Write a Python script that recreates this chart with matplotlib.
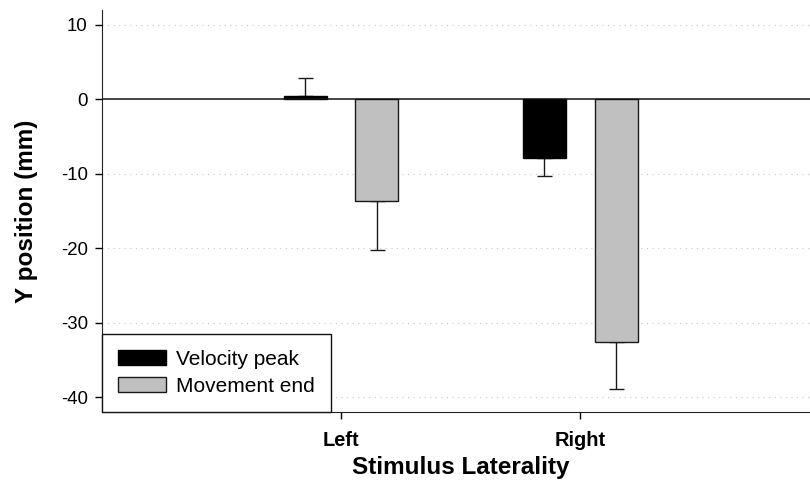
import numpy as np
import matplotlib.pyplot as plt
from matplotlib.patches import Patch

plt.rcParams['font.family'] = ['Liberation Sans', 'DejaVu Sans']
plt.rcParams['axes.unicode_minus'] = False

# Data
categories = ['Left', 'Right']
velocity_peak = [0.5, -7.9]
velocity_err = [2.35, 2.45]
movement_end = [-13.7, -32.6]
movement_err = [6.6, 6.3]

BLACK = '#000000'
GRAY = '#c0c0c0'

fig = plt.figure(figsize=(8.1, 4.88), dpi=100)
# axes runs a little past the right edge of the picture
ax = fig.add_axes([0.1256, 0.1557, 0.886, 0.8238])

x = np.arange(1, len(categories) + 1)
w = 0.18
off = 0.15

# one-sided error bars, away from zero
def one_sided(vals, errs):
    lo = [e if v < 0 else 0 for v, e in zip(vals, errs)]
    hi = [e if v >= 0 else 0 for v, e in zip(vals, errs)]
    return [lo, hi]

ax.bar(x - off, velocity_peak, w, color=BLACK, edgecolor=BLACK, linewidth=1, zorder=3)
ax.bar(x + off, movement_end, w, color=GRAY, edgecolor='#1a1a1a', linewidth=1, zorder=3)
ax.errorbar(x - off, velocity_peak, yerr=one_sided(velocity_peak, velocity_err),
            fmt='none', ecolor='#1a1a1a', elinewidth=1, capsize=5.4, capthick=1, zorder=2)
ax.errorbar(x + off, movement_end, yerr=one_sided(movement_end, movement_err),
            fmt='none', ecolor='#1a1a1a', elinewidth=1, capsize=5.4, capthick=1, zorder=2)

ax.axhline(0, color='#111111', linewidth=1.1, zorder=4)

ax.set_xlim(0, 3)
ax.set_ylim(-42, 12)
ax.set_yticks([-40, -30, -20, -10, 0, 10])
ax.set_xticks(x)
ax.set_xticklabels(categories, fontsize=14.4, fontweight='bold')
ax.tick_params(axis='y', labelsize=13.4, length=5, width=1, direction='out', pad=5)
ax.tick_params(axis='x', length=5, width=1, direction='out', pad=9)

for v in [-40, -30, -20, -10, 10]:
    ax.axhline(v, color='#c8c8c8', linewidth=0.8, linestyle=(0, (1, 4)), zorder=1)

ax.spines['top'].set_visible(False)
ax.spines['right'].set_visible(False)
ax.spines['left'].set_color('#222222')
ax.spines['bottom'].set_color('#222222')

ax.set_xlabel('Stimulus Laterality', fontsize=17.5, fontweight='bold', labelpad=4)
ax.set_ylabel('Y position (mm)', fontsize=17.5, fontweight='bold', labelpad=16)

handles = [Patch(facecolor=BLACK, edgecolor=BLACK, label='Velocity peak'),
           Patch(facecolor=GRAY, edgecolor='#1a1a1a', label='Movement end')]
leg = ax.legend(handles=handles, loc='lower left', bbox_to_anchor=(0, 0),
                borderaxespad=0, fontsize=15, fancybox=False, framealpha=1,
                edgecolor='#111111', handlelength=2.3, handleheight=0.75,
                borderpad=0.78, labelspacing=0.38, handletextpad=0.5)
leg.get_frame().set_linewidth(1)
leg.set_zorder(5)

fig.savefig('out.png', dpi=100)
